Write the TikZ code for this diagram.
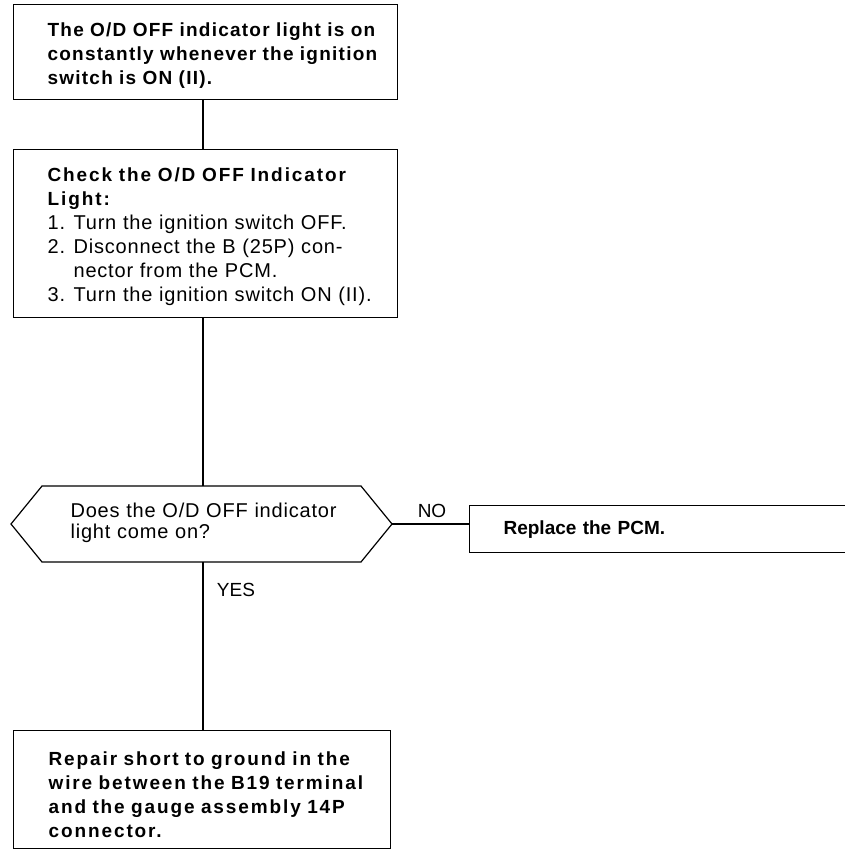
\documentclass[tikz,border=0pt]{standalone}
\usepackage{fontspec}
\setmainfont{Liberation Sans}[LetterSpace=4]
\newfontfamily\boxfont{Liberation Sans}[LetterSpace=6.5]
\newfontfamily\wideboxfont{Liberation Sans}[LetterSpace=10]
\newfontfamily\plainfont{Liberation Sans}
\usetikzlibrary{positioning}

\tikzset{
  stepbox/.style={draw, line width=1.2pt, anchor=north west, inner sep=0pt},
  steptext/.style={anchor=west, align=left, text width=350pt, inner sep=0pt, font=\fontsize{20}{24}\selectfont},
  answer/.style={font=\plainfont\fontsize{19}{24}\selectfont, inner sep=0pt}
}

\begin{document}
\begin{tikzpicture}[x=1pt, y=-1pt, line width=1.2pt]
  \fill[white] (0,0) rectangle (845,852);
  \useasboundingbox (0,0) rectangle (845,852);
  \coordinate (spine) at (203,0);

  % 1. Triệu chứng
  \node[stepbox, minimum width=384pt, minimum height=95pt] (symptom) at (13,4) {};
  \node[steptext, font=\fontsize{19}{24}\selectfont, yshift=-3pt] (symptomtext) at ([xshift=34pt]symptom.west)
    {\boxfont\bfseries The O/D OFF indicator light is on\\
     constantly whenever the ignition\\
     switch is ON (II).};

  % 2. Kiểm tra
  \node[stepbox, minimum width=384pt, minimum height=168pt] (check) at (13,149) {};
  \node[steptext, yshift=-3pt] (checktext) at ([xshift=34pt]check.west)
    {{\wideboxfont\fontsize{19}{24}\selectfont\bfseries Check the O/D OFF Indicator\\
     Light:}\\
     \makebox[26pt][l]{1.}Turn the ignition switch OFF.\\
     \makebox[26pt][l]{2.}\makebox[285pt][s]{Disconnect the B (25P) con-}\\
     \hspace*{26pt}nector from the PCM.\\
     \makebox[26pt][l]{3.}Turn the ignition switch ON (II).};

  % 3. Câu hỏi
  \coordinate (qleft) at (11,524);
  \coordinate (qtl) at (42,486);
  \coordinate (qtr) at (361,486);
  \coordinate (qright) at (392,524);
  \coordinate (qbr) at (361,562);
  \coordinate (qbl) at (42,562);
  \draw (qleft) -- (qtl) -- (qtr) -- (qright) -- (qbr) -- (qbl) -- cycle;
  \node[steptext, font=\fontsize{20}{21}\selectfont] (question) at (70,523)
    {Does the O/D OFF indicator\\ light come on?};

  % 4. NO
  \node[stepbox, minimum width=431pt, minimum height=47pt] (pcm) at (469,505) {};
  \node[steptext, font=\plainfont\fontsize{19}{24}\selectfont] (pcmtext) at ([xshift=34pt]pcm.west)
    {\bfseries Replace the PCM.};
  \node[answer] (no) at (432,511) {NO};

  % 5. YES
  \node[stepbox, minimum width=377pt, minimum height=118pt] (repair) at (13,730) {};
  \node[steptext, font=\fontsize{19}{24}\selectfont, yshift=-5pt] (repairtext) at ([xshift=35pt]repair.west)
    {\wideboxfont\bfseries Repair short to ground in the\\
     wire between the B19 terminal\\
     and the gauge assembly 14P\\
     connector.};
  \node[answer] (yes) at (236,590) {YES};

  % đường nối
  \draw (symptom.south -| spine) -- (check.north -| spine);
  \draw (check.south -| spine) -- (qtl -| spine);
  \draw (qbl -| spine) -- (repair.north -| spine);
  \draw (qright) -- (pcm.west |- qright);
\end{tikzpicture}
\end{document}
